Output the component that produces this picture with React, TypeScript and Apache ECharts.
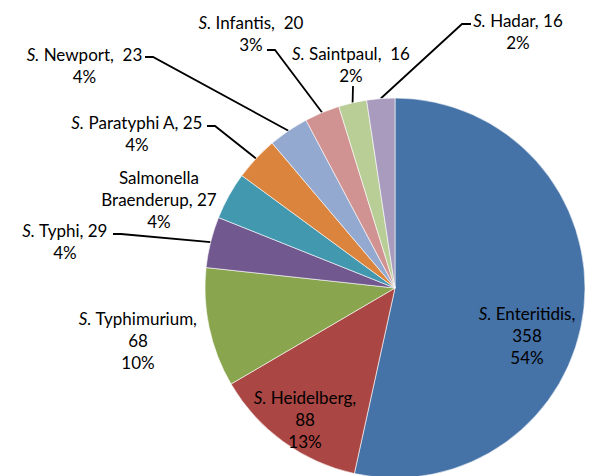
import React, { useEffect, useRef } from "react";
import * as echarts from "echarts";

// Serotype counts, clockwise from 12 o'clock
const serotypes = [
  "Enteritidis",
  "Heidelberg",
  "Typhimurium",
  "Typhi",
  "Braenderup",
  "Paratyphi A",
  "Newport",
  "Infantis",
  "Saintpaul",
  "Hadar",
];
const counts = [358, 88, 68, 29, 27, 25, 23, 20, 16, 16];
const percentLabels = ["54%", "13%", "10%", "4%", "4%", "4%", "4%", "3%", "2%", "2%"];

const sliceColors = [
  "#4572A7",
  "#AA4643",
  "#89A54E",
  "#71588F",
  "#4198AF",
  "#DB843D",
  "#93A9CF",
  "#D19392",
  "#B9CD96",
  "#A99BBD",
];

// Label placement: block centre, and for leader lines the point where the
// line meets the text plus the elbow just beyond it.
type LabelPlace = {
  cx: number;
  cy: number;
  end?: [number, number];
  elbow?: [number, number];
};
const labelPlaces: LabelPlace[] = [
  { cx: 527, cy: 335 },
  { cx: 305, cy: 419 },
  { cx: 138, cy: 340 },
  { cx: 65, cy: 241.5, end: [113, 234], elbow: [121, 234] },
  { cx: 159, cy: 199 },
  { cx: 137, cy: 133.5, end: [207, 126], elbow: [215, 126] },
  { cx: 84.5, cy: 65.5, end: [145, 57], elbow: [153, 57] },
  { cx: 251, cy: 33.5, end: [267, 50], elbow: [275, 50] },
  { cx: 351, cy: 64, end: [353, 86], elbow: [353, 86] },
  { cx: 518, cy: 31.5, end: [471, 24], elbow: [462, 24] },
];

const PIE_CENTER: [number, number] = [395, 288];
const PIE_RADIUS = 190;
const FONT = "Lato, 'Open Sans', sans-serif";
const FONT_SIZE = 17;
const TEXT_COLOR = "#000";

function labelText(i: number): string {
  const name = serotypes[i];
  const v = counts[i];
  const p = percentLabels[i];
  if (name === "Braenderup") {
    return `{n|Salmonella}\n{n|Braenderup, ${v}}\n{n|${p}}`;
  }
  // slices whose label breaks after the name
  if (i <= 2) {
    return `{i|S.}{n| ${name},}\n{n|${v}}\n{n|${p}}`;
  }
  const gap = name === "Hadar" || name === "Typhi" || name === "Paratyphi A" ? " " : "  ";
  return `{i|S.}{n| ${name},${gap}${v}}\n{n|${p}}`;
}

export default function App() {
  const ref = useRef<HTMLDivElement>(null);

  useEffect(() => {
    if (!ref.current) return;
    const chart = echarts.init(ref.current, null, { renderer: "svg" });

    const total = counts.reduce((a, b) => a + b, 0);
    let acc = 0;
    const midAngles = counts.map((c) => {
      const mid = acc + c / 2;
      acc += c;
      return (mid / total) * Math.PI * 2;
    });

    const rich = {
      n: { fontFamily: FONT, fontSize: FONT_SIZE, color: TEXT_COLOR, lineHeight: 22 },
      i: {
        fontFamily: FONT,
        fontSize: FONT_SIZE,
        color: TEXT_COLOR,
        lineHeight: 22,
        fontStyle: "italic" as const,
      },
    };

    chart.setOption({
      animation: false,
      series: [
        {
          type: "pie",
          center: PIE_CENTER,
          radius: PIE_RADIUS,
          startAngle: 90,
          clockwise: true,
          silent: true,
          avoidLabelOverlap: false,
          itemStyle: { borderColor: "#ffffff", borderWidth: 0.6 },
          label: {
            show: true,
            position: "outside",
            formatter: (p: any) => labelText(p.dataIndex),
            align: "center",
            fontFamily: FONT,
            fontSize: FONT_SIZE,
            color: TEXT_COLOR,
            rich,
          },
          labelLine: {
            show: true,
            length: 10,
            length2: 10,
            lineStyle: { color: "#000", width: 1.8 },
          },
          labelLayout: (params: any) => {
            const i = params.dataIndex;
            const pl = labelPlaces[i];
            const out: any = {
              x: pl.cx,
              y: pl.cy,
              align: "center",
              verticalAlign: "middle",
              hideOverlap: false,
              moveOverlap: null,
            };
            if (pl.end && pl.elbow) {
              const a = midAngles[i];
              const edge = [
                PIE_CENTER[0] + PIE_RADIUS * Math.sin(a),
                PIE_CENTER[1] - PIE_RADIUS * Math.cos(a),
              ];
              out.labelLinePoints = [edge, pl.elbow, pl.end];
            }
            return out;
          },
          data: serotypes.map((name, i) => ({
            name,
            value: counts[i],
            itemStyle: { color: sliceColors[i] },
            labelLine: { show: !!labelPlaces[i].end },
          })),
        },
      ],
    });

    return () => chart.dispose();
  }, []);

  return (
    <div
      ref={ref}
      style={{ position: "fixed", left: 0, top: 0, width: 593, height: 476, background: "#fff" }}
    />
  );
}
